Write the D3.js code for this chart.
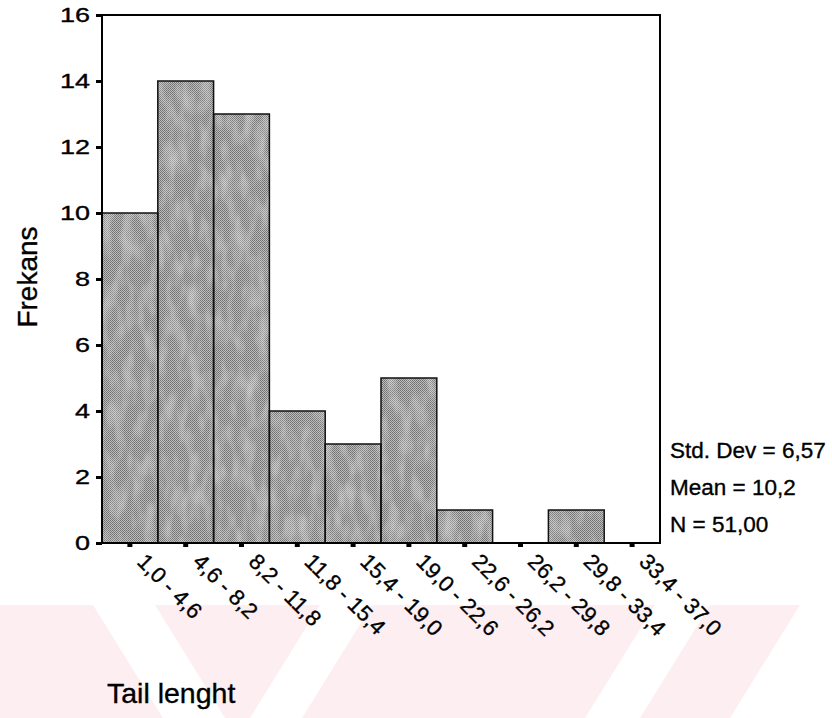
<!DOCTYPE html>
<html>
<head>
<meta charset="utf-8">
<script src="https://cdn.jsdelivr.net/npm/d3@7/dist/d3.min.js"></script>
<style>
  body { margin: 0; background: #fff; }
  svg { display: block; font-family: "Liberation Sans", Arial, sans-serif; }
  text { stroke: #000; stroke-width: 0.35px; }
</style>
</head>
<body>
<div id="chart"></div>
<script>
// histogram data
var bins = ["1,0 - 4,6", "4,6 - 8,2", "8,2 - 11,8", "11,8 - 15,4", "15,4 - 19,0",
  "19,0 - 22,6", "22,6 - 26,2", "26,2 - 29,8", "29,8 - 33,4", "33,4 - 37,0"];
var counts = [10, 14, 13, 4, 3, 5, 1, 0, 1, 0];
var yTicks = [0, 2, 4, 6, 8, 10, 12, 14, 16];
var stats = ["Std. Dev = 6,57", "Mean = 10,2", "N = 51,00"];

(function() {
  var width = 832, height = 718;
  var left = 102, right = 660, top = 15, bottom = 543;

  var svg = d3.select("#chart").append("svg")
    .attr("width", width)
    .attr("height", height);

  var defs = svg.append("defs");

  // dithered gray fill like the scanned print
  var pat = defs.append("pattern")
    .attr("id", "dither")
    .attr("width", 2).attr("height", 2)
    .attr("patternUnits", "userSpaceOnUse");
  pat.append("rect").attr("width", 2).attr("height", 2).attr("fill", "#bdbdbd");
  pat.append("rect").attr("width", 1).attr("height", 1).attr("fill", "#6e6e6e");
  pat.append("rect").attr("x", 1).attr("y", 1).attr("width", 1).attr("height", 1).attr("fill", "#7c7c7c");

  // blotchy print noise
  var f = defs.append("filter").attr("id", "grain")
    .attr("x", 0).attr("y", 0).attr("width", 1).attr("height", 1);
  f.append("feTurbulence")
    .attr("type", "fractalNoise")
    .attr("baseFrequency", "0.09 0.035")
    .attr("numOctaves", 2)
    .attr("seed", 7)
    .attr("result", "noise");
  f.append("feColorMatrix")
    .attr("in", "noise")
    .attr("type", "matrix")
    .attr("values", "0 0 0 0 1  0 0 0 0 1  0 0 0 0 1  0.6 0 0 0 -0.25")
    .attr("result", "light");
  f.append("feComposite")
    .attr("in", "light").attr("in2", "SourceGraphic")
    .attr("operator", "in").attr("result", "lightIn");
  f.append("feMerge").call(function(m) {
    m.append("feMergeNode").attr("in", "SourceGraphic");
    m.append("feMergeNode").attr("in", "lightIn");
  });

  // faint watermark stripes at the bottom
  var wm = svg.append("g").attr("fill", "#fdeef1");
  wm.append("path").attr("d", "M0,605 L800,605 L730,718 L0,718 Z");
  var wmWhite = svg.append("g").attr("fill", "#fff");
  wmWhite.append("path").attr("d", "M93,605 L155,605 L225,718 L163,718 Z");
  wmWhite.append("path").attr("d", "M320,605 L372,605 L302,718 L250,718 Z");
  wmWhite.append("path").attr("d", "M655,605 L710,605 L640,718 L585,718 Z");

  var x = d3.scaleBand()
    .domain(bins)
    .range([left, right])
    .padding(0);

  var y = d3.scaleLinear()
    .domain([0, 16])
    .range([bottom, top]);

  // bars
  var barG = svg.append("g");
  barG.selectAll("rect.fill")
    .data(counts)
    .enter().append("rect")
    .attr("class", "fill")
    .attr("x", function(d, i) { return x(bins[i]); })
    .attr("y", function(d) { return y(d); })
    .attr("width", x.bandwidth())
    .attr("height", function(d) { return y(0) - y(d); })
    .attr("fill", function(d) { return d > 0 ? "url(#dither)" : "none"; })
    .attr("filter", "url(#grain)");
  barG.selectAll("rect.edge")
    .data(counts)
    .enter().append("rect")
    .attr("class", "edge")
    .attr("x", function(d, i) { return x(bins[i]); })
    .attr("y", function(d) { return y(d); })
    .attr("width", x.bandwidth())
    .attr("height", function(d) { return y(0) - y(d); })
    .attr("fill", "none")
    .attr("stroke", function(d) { return d > 0 ? "#111" : "none"; })
    .attr("stroke-width", 1.5);

  // frame
  svg.append("rect")
    .attr("x", left).attr("y", top)
    .attr("width", right - left).attr("height", bottom - top)
    .attr("fill", "none")
    .attr("stroke", "#000")
    .attr("stroke-width", 2);

  // y axis
  var yAxis = svg.append("g")
    .attr("transform", "translate(" + left + ",0)")
    .call(d3.axisLeft(y).tickValues(yTicks).tickSize(6).tickPadding(6));
  yAxis.select(".domain").remove();
  yAxis.selectAll(".tick line").attr("stroke", "#000").attr("stroke-width", 3);
  yAxis.selectAll(".tick text")
    .attr("font-size", 20)
    .attr("fill", "#000")
    .attr("font-family", null)
    .attr("x", null)
    .attr("transform", "translate(-12,0) scale(1.35,1)");

  // x axis
  var xAxis = svg.append("g")
    .attr("transform", "translate(0," + bottom + ")")
    .call(d3.axisBottom(x).tickSize(4));
  xAxis.select(".domain").remove();
  xAxis.selectAll(".tick line").attr("stroke", "#000").attr("stroke-width", 5);
  xAxis.selectAll(".tick text")
    .attr("font-size", 22)
    .attr("fill", "#000")
    .attr("font-family", null)
    .attr("y", null).attr("dy", null)
    .attr("text-anchor", "start")
    .attr("transform", "translate(6,20) rotate(45)");

  // axis titles
  svg.append("text")
    .attr("transform", "translate(37,277) rotate(-90)")
    .attr("text-anchor", "middle")
    .attr("font-size", 28)
    .text("Frekans");

  svg.append("text")
    .attr("x", 107).attr("y", 703)
    .attr("font-size", 28.5)
    .text("Tail lenght");

  // summary statistics
  svg.append("g").selectAll("text")
    .data(stats)
    .enter().append("text")
    .attr("x", 670)
    .attr("y", function(d, i) { return 458 + i * 37; })
    .attr("font-size", 22.5)
    .text(function(d) { return d; });
})();
</script>
</body>
</html>
